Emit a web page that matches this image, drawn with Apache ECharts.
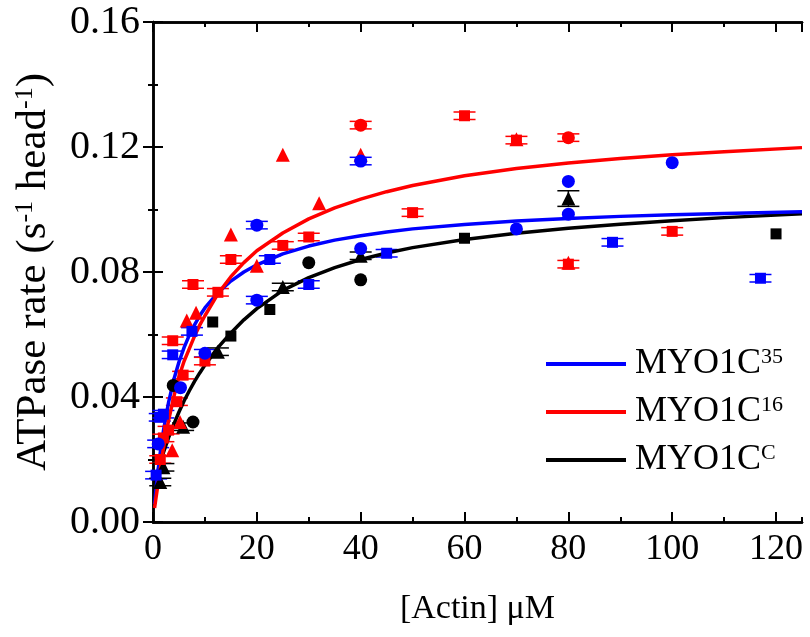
<!DOCTYPE html>
<html><head><meta charset="utf-8">
<script src="https://cdn.jsdelivr.net/npm/echarts@6/dist/echarts.min.js"></script>
<style>html,body{margin:0;padding:0;background:#fff}#c{width:810px;height:637px}</style>
</head><body><div id="c"></div>
<script>
const FONT = '"Liberation Serif","Times New Roman",serif';

// fitted curves
const fitX     = [0.3, 0.6, 1, 1.5, 2, 3, 4, 5, 6, 7, 8, 9, 10, 12.5, 15, 17.5, 20, 25, 30, 35, 40, 45, 50, 60, 70, 80, 90, 100, 110, 125];
const fitBlue  = [0.0057, 0.0109, 0.0170, 0.0235, 0.0291, 0.0383, 0.0455, 0.0512, 0.0559, 0.0598, 0.0631, 0.0660, 0.0685, 0.0734, 0.0771, 0.0800, 0.0823, 0.0858, 0.0883, 0.0902, 0.0916, 0.0928, 0.0938, 0.0952, 0.0963, 0.0971, 0.0978, 0.0983, 0.0987, 0.0993];
const fitRed   = [0.0045, 0.0080, 0.0125, 0.0180, 0.0235, 0.0325, 0.0400, 0.0465, 0.0515, 0.0555, 0.0595, 0.0630, 0.0660, 0.0730, 0.0785, 0.0830, 0.0868, 0.0925, 0.0970, 0.1005, 0.1033, 0.1057, 0.1077, 0.1108, 0.1131, 0.1149, 0.1163, 0.1175, 0.1185, 0.1198];
const fitBlack = [0.0120, 0.0140, 0.0165, 0.0195, 0.0222, 0.0270, 0.0312, 0.0352, 0.0388, 0.0420, 0.0450, 0.0477, 0.0502, 0.0558, 0.0605, 0.0647, 0.0683, 0.0741, 0.0782, 0.0814, 0.0840, 0.0861, 0.0878, 0.0904, 0.0924, 0.0940, 0.0953, 0.0964, 0.0974, 0.0986];

// measured points: [actin µM, rate, error]
const blueCircles = [[1.0,0.0250,0.0012],[5.3,0.0430,0],[10,0.0540,0.0012],[20,0.0710,0.0012],[20,0.0950,0.0012],[40,0.0875,0],[40,0.1155,0.0012],[70,0.0938,0],[80,0.0985,0],[80,0.1090,0],[100,0.1150,0]];
const blueSquares = [[0.6,0.0150,0.0012],[1.3,0.0335,0.0012],[2.0,0.0345,0.0012],[3.8,0.0535,0.0012],[7.5,0.0610,0.0012],[22.5,0.0840,0.0012],[30,0.0760,0.0012],[45,0.0860,0.0012],[88.5,0.0895,0.0012],[117,0.0780,0.0012]];
const redCircles = [[40,0.1270,0.0012],[80,0.1230,0.0012]];
const redSquares = [[1.4,0.0200,0.0012],[2.0,0.0269,0.0012],[3.0,0.0294,0.0012],[3.8,0.0580,0.0012],[4.6,0.0385,0.0012],[5.8,0.0470,0.0012],[7.7,0.0760,0.0012],[10,0.0515,0.0012],[12.5,0.0735,0.0012],[15,0.0840,0.0012],[25,0.0885,0.0012],[30,0.0912,0.0012],[50,0.0990,0.0012],[60,0.1300,0.0012],[70,0.1222,0.0012],[80,0.0825,0.0012],[100,0.0930,0.0012]];
const redTriangles = [[3.7,0.0230,0],[5.2,0.0320,0],[6.5,0.0645,0],[8.3,0.0670,0],[15,0.0920,0],[20,0.0820,0],[25,0.1175,0],[32,0.1020,0],[40,0.1175,0],[70,0.1225,0],[80,0.0830,0]];
const blackCircles = [[3.9,0.0437,0],[7.7,0.0320,0],[30,0.0830,0],[40,0.0775,0]];
const blackSquares = [[11.5,0.0640,0],[15,0.0595,0],[22.5,0.0680,0],[60,0.0908,0],[120,0.0922,0]];
const blackTriangles = [[1.4,0.0128,0.0012],[2.0,0.0175,0.0012],[5.8,0.0305,0.0012],[12.5,0.0545,0.0012],[25,0.0752,0.0012],[40,0.0852,0.0012],[80,0.1035,0.0025]];

const seriesNames = ['MYO1C35', 'MYO1C16', 'MYO1CC'];
const BLUE = '#0000ff', RED = '#ff0000', BLACK = '#000000';

const chart = echarts.init(document.getElementById('c'));

function errSeries(data, color) {
  return {
    type: 'custom', xAxisIndex: 1, yAxisIndex: 0, z: 2, silent: true,
    data: data.filter(d => d[2] > 0),
    encode: { x: 0, y: 1 },
    renderItem: function (params, api) {
      const x = api.value(0), y = api.value(1), e = api.value(2);
      const p0 = api.coord([x, y - e]), p1 = api.coord([x, y + e]);
      const hw = 11;
      const st = { stroke: color, lineWidth: 1.5 };
      return { type: 'group', children: [
        { type: 'line', shape: { x1: p0[0], y1: p0[1], x2: p1[0], y2: p1[1] }, style: st },
        { type: 'line', shape: { x1: p0[0] - hw, y1: p0[1], x2: p0[0] + hw, y2: p0[1] }, style: st },
        { type: 'line', shape: { x1: p1[0] - hw, y1: p1[1], x2: p1[0] + hw, y2: p1[1] }, style: st }
      ]};
    }
  };
}
function scat(data, color, symbol, size) {
  return { type: 'scatter', xAxisIndex: 1, yAxisIndex: 0, z: 4, symbol: symbol, symbolSize: size,
    itemStyle: { color: color, opacity: 1 }, data: data.map(d => [d[0], d[1]]), silent: true };
}
function fit(name, vals, color) {
  return { type: 'line', name: name, xAxisIndex: 1, yAxisIndex: 0, z: 3, showSymbol: false, symbol: 'none',
    smooth: false,
    lineStyle: { color: color, width: 3.5 }, itemStyle: { color: color },
    data: fitX.map((x, i) => [x, vals[i]]) };
}

const axLine = { show: true, lineStyle: { color: '#000', width: 2.5 } };
const tickStyle = { color: '#000', width: 2 };

const option = {
  backgroundColor: '#fff',
  animation: false,
  grid: { left: 153, right: 8, top: 22, bottom: 115, containLabel: false, outerBoundsMode: 'none' },
  legend: {
    orient: 'vertical', left: 541, top: 341, itemWidth: 80, itemHeight: 4, itemGap: 12,
    icon: 'rect',
    data: seriesNames,
    formatter: n => '{a|MYO1C}{s|' + n.slice(5) + '}',
    textStyle: { padding: [0, 0, 0, 4], rich: {
      a: { fontFamily: FONT, fontSize: 36, color: '#000' },
      s: { fontFamily: FONT, fontSize: 22, color: '#000', verticalAlign: 'top' }
    } }
  },
  xAxis: [
    { type: 'value', position: 'bottom', min: 0, max: 125, interval: 10,
      axisLine: axLine, axisTick: { inside: true, length: 5, lineStyle: tickStyle },
      axisLabel: { show: false }, splitLine: { show: false } },
    { type: 'value', position: 'bottom', min: 0, max: 125, interval: 20,
      axisLine: axLine, axisTick: { inside: true, length: 10, lineStyle: tickStyle },
      axisLabel: { margin: 10, showMaxLabel: false, fontFamily: FONT, fontSize: 36, color: '#000' },
      splitLine: { show: false },
      name: '[Actin] μM', nameLocation: 'middle', nameGap: 70,
      nameTextStyle: { fontFamily: FONT, fontSize: 34, color: '#000' } },
    { type: 'value', position: 'top', min: 0, max: 125, interval: 10,
      axisLine: axLine, axisTick: { inside: true, length: 5, lineStyle: tickStyle },
      axisLabel: { show: false }, splitLine: { show: false } },
    { type: 'value', position: 'top', min: 0, max: 125, interval: 20,
      axisLine: axLine, axisTick: { inside: true, length: 10, lineStyle: tickStyle },
      axisLabel: { show: false }, splitLine: { show: false } }
  ],
  yAxis: [
    { type: 'value', position: 'left', min: 0, max: 0.16, interval: 0.04,
      axisLine: axLine, axisTick: { inside: true, length: 10, lineStyle: tickStyle },
      minorTick: { show: true, splitNumber: 2, length: 5, lineStyle: tickStyle },
      axisLabel: { margin: 13, formatter: v => v.toFixed(2), fontFamily: FONT, fontSize: 40, color: '#000' },
      splitLine: { show: false },
      name: 'ATPase rate (s{s|-1} head{s|-1})', nameLocation: 'middle', nameGap: 98, nameRotate: 90,
      nameTextStyle: { fontFamily: FONT, fontSize: 43, color: '#000', rich: {
        s: { fontFamily: FONT, fontSize: 26, color: '#000', verticalAlign: 'top' } } } },
    { type: 'value', position: 'right', min: 0, max: 0.16, interval: 0.04,
      axisLine: axLine, axisTick: { inside: true, length: 10, lineStyle: tickStyle },
      minorTick: { show: true, splitNumber: 2, length: 5, lineStyle: tickStyle },
      axisLabel: { show: false }, splitLine: { show: false } }
  ],
  series: [
    errSeries(blueCircles.concat(blueSquares), BLUE),
    errSeries(redCircles.concat(redSquares, redTriangles), RED),
    errSeries(blackCircles.concat(blackSquares, blackTriangles), BLACK),
    fit(seriesNames[2], fitBlack, BLACK),
    fit(seriesNames[0], fitBlue, BLUE),
    fit(seriesNames[1], fitRed, RED),
    scat(blackSquares, BLACK, 'rect', 11),
    scat(blackCircles, BLACK, 'circle', 13),
    scat(blackTriangles, BLACK, 'triangle', 14),
    scat(redSquares, RED, 'rect', 11),
    scat(redTriangles, RED, 'triangle', 14),
    scat(redCircles, RED, 'circle', 13),
    scat(blueSquares, BLUE, 'rect', 11),
    scat(blueCircles, BLUE, 'circle', 13)
  ]
};
chart.setOption(option);
</script></body></html>
